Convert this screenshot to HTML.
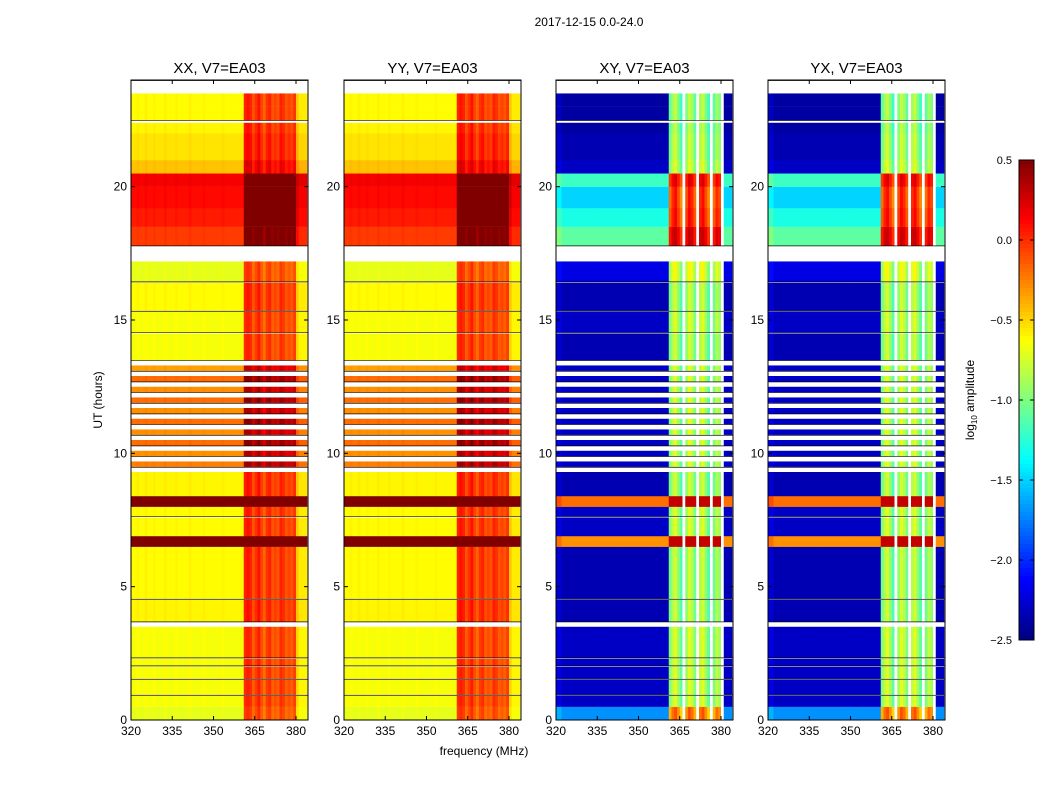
<!DOCTYPE html>
<html><head><meta charset="utf-8"><style>
body{margin:0;background:#fff;width:1050px;height:800px;overflow:hidden;font-family:"Liberation Sans",sans-serif}
svg text{font-family:"Liberation Sans",sans-serif}
</style></head><body>
<svg id="fig" width="1050" height="800" xmlns="http://www.w3.org/2000/svg">
<text x="589" y="26" font-size="12" text-anchor="middle">2017-12-15 0.0-24.0</text>
<text x="484" y="755" font-size="12" text-anchor="middle">frequency (MHz)</text>
<text x="0" y="0" font-size="12" text-anchor="middle" transform="translate(102,400) rotate(-90)">UT (hours)</text>
<text x="0" y="0" font-size="12" text-anchor="middle" transform="translate(974,400) rotate(-90)">log<tspan font-size="8" dy="3">10</tspan><tspan dy="-3"> amplitude</tspan></text>
<g id="plots"></g>
<g id="cbar"></g>
</svg>
<script>
// ---- data ----
const panelTitles = ["XX, V7=EA03","YY, V7=EA03","XY, V7=EA03","YX, V7=EA03"];
const xTicks = [320,335,350,365,380];
const yTicks = [0,5,10,15,20];
const cbarTicks = [0.5,0.0,-0.5,-1.0,-1.5,-2.0,-2.5];
const rowStart = [0,0.5,0.9,0.95,1.5,1.55,2.0,2.05,2.3,2.35,3.5,3.7,4.5,4.55,6.5,6.9,7.6,7.65,8.0,8.4,9.3,9.5,9.7,9.9,10.1,10.3,10.5,10.7,10.9,11.1,11.3,11.5,11.7,11.9,12.1,12.3,12.5,12.7,12.9,13.1,13.3,13.5,14.5,14.55,15.3,15.35,16.4,16.45,17.2,17.8,18.5,19.2,20.0,20.5,21.0,22.0,22.4,22.5,23.0,23.5];
const rowEnd   = [0.5,0.9,0.95,1.5,1.55,2.0,2.05,2.3,2.35,3.5,3.7,4.5,4.55,6.5,6.9,7.6,7.65,8.0,8.4,9.3,9.5,9.7,9.9,10.1,10.3,10.5,10.7,10.9,11.1,11.3,11.5,11.7,11.9,12.1,12.3,12.5,12.7,12.9,13.1,13.3,13.5,14.5,14.55,15.3,15.35,16.4,16.45,17.2,17.8,18.5,19.2,20.0,20.5,21.0,22.0,22.4,22.5,23.0,23.5,24.0];
const parLevel = [-0.7,-0.65,null,-0.65,null,-0.65,null,-0.65,null,-0.65,null,-0.6,null,-0.62,0.5,-0.62,null,-0.62,0.5,-0.6,null,-0.25,null,-0.3,null,-0.2,null,-0.3,null,-0.2,null,-0.3,null,-0.2,null,-0.3,null,-0.2,null,-0.35,null,-0.65,null,-0.65,null,-0.62,null,-0.7,null,-0.05,0.05,0.1,0.15,-0.45,-0.55,-0.6,null,-0.62,-0.62,null];
const crossLevel = [-1.7,-2.3,null,-2.3,null,-2.3,null,-2.3,null,-2.3,null,-2.35,null,-2.35,-0.3,-2.3,null,-2.3,-0.2,-2.35,null,-2.3,null,-2.3,null,-2.3,null,-2.3,null,-2.3,null,-2.3,null,-2.3,null,-2.3,null,-2.3,null,-2.3,null,-2.35,null,-2.3,null,-2.35,null,-2.2,null,-1.1,-1.3,-1.5,-1.2,-2.3,-2.35,-2.4,null,-2.4,-2.4,null];
// per-MHz channel offsets, 320..383
const parChan = [0,0,0.02,0,0,0.03,0,0,0.02,0,0,0,0.03,0,0,0,0.02,0,0,0,0,0.03,0,0,0,0,0.02,0,0,0,0,0,0,0.02,0,0,0,0,0,0,0,0.65,0.7,0.65,0.5,0.6,0.7,0.55,0.45,0.6,0.65,0.5,0.55,0.5,0.65,0.6,0.5,0.55,0.5,0.6,0.15,0.05,0.05,0.05];
const crossChan = [0.1,0.1,0,0,0,0,0,0,0,0,0,0,0,0,0,0,0,0,0,0,0,0,0,0,0,0,0,0,0,0,0,0,0,0,0,0,0,0,0,0,0,1.3,1.5,1.6,1.4,1.2,null,1.4,1.6,1.5,1.3,null,1.5,1.6,1.4,1.2,null,1.3,1.5,1.4,null,0,0,0];

// ---- axes ----
const panelX = [131,344,556,768], pw = 177, plotTop = 80, plotBottom = 720;
const fx = f => (f-320)*2.75;
const hy = h => plotBottom - h*(plotBottom-plotTop)/24;
function jet(v){
  let t = Math.max(0,Math.min(1,(v+2.5)/3));
  const c = x => Math.round(255*Math.max(0,Math.min(1,x)));
  return `rgb(${c(1.5-Math.abs(4*t-3))},${c(1.5-Math.abs(4*t-2))},${c(1.5-Math.abs(4*t-1))})`;
}
const NS="http://www.w3.org/2000/svg";
function mk(tag,attrs,parent){const e=document.createElementNS(NS,tag);for(const k in attrs)e.setAttribute(k,attrs[k]);parent.appendChild(e);return e;}
const plots=document.getElementById('plots');
panelTitles.forEach((title,p)=>{
  const g=mk('g',{transform:`translate(${panelX[p]},0)`},plots);
  
  
  const cross = p>=2;
  const lv = cross?crossLevel:parLevel, ch = cross?crossChan:parChan;
  for(let r=0;r<rowStart.length;r++){
    const y0=hy(rowEnd[r]), y1=hy(rowStart[r]);
    if(lv[r]===null){
      const gap=mk('rect',{x:0,y:y0,width:pw,height:Math.max(1,y1-y0),fill:'#fff'},g);
      
      
      mk('line',{x1:0,x2:pw,y1:y0+0.5,y2:y0+0.5,stroke:'#000','stroke-width':0.8},g);
      continue;
    }
    for(let c=0;c<ch.length;c++){
      const x0=fx(320+c), w=Math.min(fx(321+c),pw)-x0;
      if(w<=0)continue;
      let v;
      if(ch[c]===null) v=null;
      else if(cross){ v = lv[r] + ch[c]; if(lv[r]>-1.5&&ch[c]>0.5) v=Math.min(lv[r]+0.9*ch[c],0.3); }
      else v = lv[r]+ch[c];
      const cell=mk('rect',{x:x0,y:y0,width:w+0.3,height:y1-y0+0.2,fill:v===null?'#fff':jet(v)},g);
      
      
    }
  }
  mk('rect',{x:0,y:plotTop,width:pw,height:plotBottom-plotTop,fill:'none',stroke:'#000','stroke-width':1},g);
  const tt=mk('text',{x:pw/2,y:73,'font-size':15,'text-anchor':'middle'},g);tt.textContent=title;
  
  
  xTicks.forEach(f=>{
    mk('line',{x1:fx(f),x2:fx(f),y1:plotBottom,y2:plotBottom-4,stroke:'#000'},g);
    mk('line',{x1:fx(f),x2:fx(f),y1:plotTop,y2:plotTop+4,stroke:'#000'},g);
    const t=mk('text',{x:fx(f),y:plotBottom+15,'font-size':12,'text-anchor':'middle'},g);t.textContent=f;
    
    
  });
  yTicks.forEach(h=>{
    mk('line',{x1:0,x2:4,y1:hy(h),y2:hy(h),stroke:'#000'},g);
    mk('line',{x1:pw,x2:pw-4,y1:hy(h),y2:hy(h),stroke:'#000'},g);
    const t=mk('text',{x:-4,y:hy(h)+4,'font-size':12,'text-anchor':'end'},g);t.textContent=h;
    
    
  });
});
const cb=document.getElementById('cbar');


const cbTop=160,cbBot=640,cbX=1019,cbW=15;
for(let i=0;i<120;i++){
  const v=0.5-3*(i+0.5)/120;
  mk('rect',{x:cbX,y:cbTop+i*4,width:cbW,height:4.3,fill:jet(v)},cb);
}
mk('rect',{x:cbX,y:cbTop,width:cbW,height:cbBot-cbTop,fill:'none',stroke:'#000'},cb);
cbarTicks.forEach(v=>{
  const y=cbTop+(0.5-v)/3*(cbBot-cbTop);
  mk('line',{x1:cbX,x2:cbX+4,y1:y,y2:y,stroke:'#000'},cb);
  mk('line',{x1:cbX+cbW,x2:cbX+cbW-4,y1:y,y2:y,stroke:'#000'},cb);
  const t=mk('text',{x:1012,y:y+4,'font-size':11,'text-anchor':'end'},cb);
  t.textContent=(v<0?'\u2212':'')+Math.abs(v).toFixed(1);
  
  
});
</script>
</body></html>
